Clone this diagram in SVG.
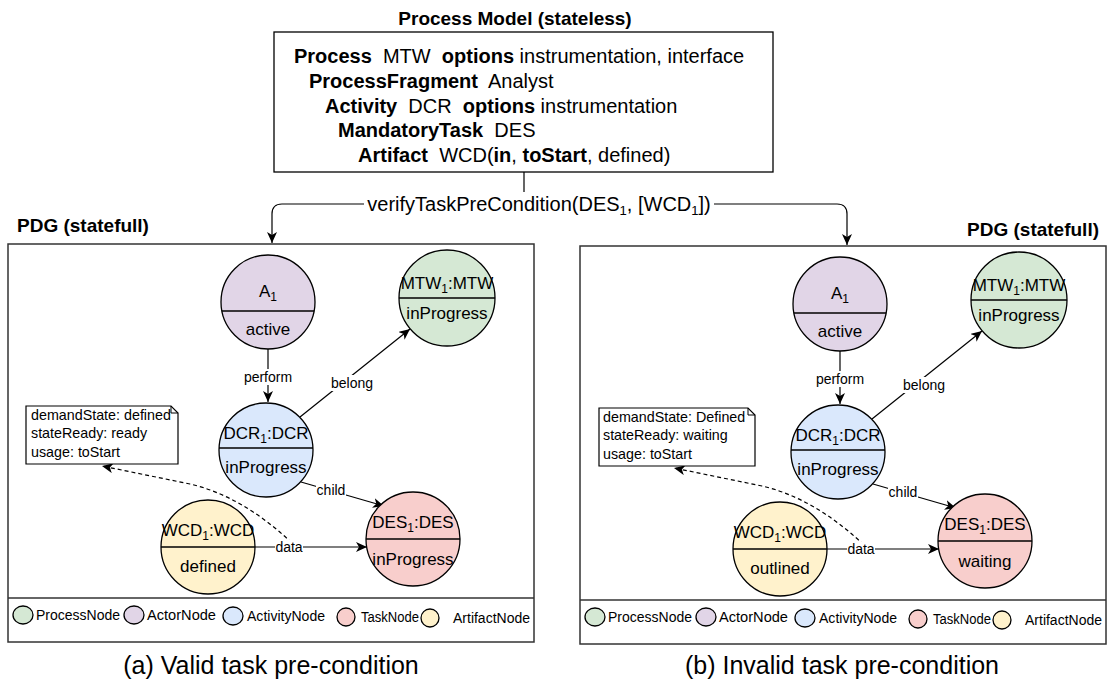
<svg xmlns="http://www.w3.org/2000/svg" width="1109" height="681" viewBox="0 0 1109 681">
<style>
text{font-family:"Liberation Sans",Arial,sans-serif;fill:#000}
.b{font-weight:bold}
.title{font-size:19px;font-weight:bold}
.pm{font-size:20px}
.nt{font-size:17px;text-anchor:middle}
.el{font-size:14px;text-anchor:middle}
.note{font-size:14.3px}
.lg{font-size:14px}
.cap{font-size:25px;text-anchor:middle}
.edge{fill:none;stroke:#000;stroke-width:1.2}
.dash{fill:none;stroke:#000;stroke-width:1.2;stroke-dasharray:4 3}
.nd{stroke:#000;stroke-width:1.3}
.div{stroke:#000;stroke-width:1.3}
.pn{fill:#d5e8d4}.an{fill:#e1d5e7}.vn{fill:#dae8fc}.tn{fill:#f8cecc}.fn{fill:#fff2cc}
.frame{fill:#fff;stroke:#333;stroke-width:1.5}
.lbg{fill:#fff}
</style>
<defs>
<marker id="arr" markerUnits="userSpaceOnUse" markerWidth="12" markerHeight="10" viewBox="0 0 12 10" refX="11" refY="5" orient="auto">
<path d="M0,0 L11,5 L0,10 L3,5 Z" fill="#000"/>
</marker>
</defs>
<rect width="1109" height="681" fill="#fff"/>

<!-- Process model -->
<g id="process-model">
<text class="title" x="515" y="25" text-anchor="middle">Process Model (stateless)</text>
<rect x="274" y="32" width="499" height="140" fill="#fff" stroke="#000" stroke-width="1.3"/>
<text class="pm" x="294" y="63" xml:space="preserve"><tspan class="b">Process</tspan>  MTW  <tspan class="b">options</tspan> instrumentation, interface</text>
<text class="pm" x="309" y="88" xml:space="preserve"><tspan class="b">ProcessFragment</tspan>  Analyst</text>
<text class="pm" x="325" y="113" xml:space="preserve"><tspan class="b">Activity</tspan>  DCR  <tspan class="b">options</tspan> instrumentation</text>
<text class="pm" x="338" y="137" xml:space="preserve"><tspan class="b">MandatoryTask</tspan>  DES</text>
<text class="pm" x="358" y="162" xml:space="preserve"><tspan class="b">Artifact</tspan>  WCD(<tspan class="b">in</tspan>, <tspan class="b">toStart</tspan>, defined)</text>
</g>

<g id="top-connectors">
<path class="edge" d="M524 172 V204 H282 Q272 204 272 214 V243" marker-end="url(#arr)"/>
<path class="edge" d="M524 204 H837 Q847 204 847 214 V245" marker-end="url(#arr)"/>
<rect class="lbg" x="364" y="192" width="350" height="24"/>
<text x="539" y="211" font-size="20" text-anchor="middle">verifyTaskPreCondition(DES<tspan font-size="13" dy="4">1</tspan><tspan dy="-4">, [WCD</tspan><tspan font-size="13" dy="4">1</tspan><tspan dy="-4">])</tspan></text>
</g>

<!-- Left panel -->
<text class="title" x="17" y="232">PDG (statefull)</text>
<g id="panel-a">
<rect class="frame" x="8" y="244" width="526" height="398"/>
<line x1="8" y1="598" x2="534" y2="598" stroke="#333" stroke-width="1.5"/>

<g id="a-connectors">
<path class="edge" d="M268 349 V402" marker-end="url(#arr)"/>
<path class="edge" d="M300 417 L410 329" marker-end="url(#arr)"/>
<path class="edge" d="M301 482 L384 506" marker-end="url(#arr)"/>
<path class="edge" d="M255 547 H367" marker-end="url(#arr)"/>
<path class="dash" d="M292 543 Q242 496 190 484 L102 466" marker-end="url(#arr)"/>
<rect class="lbg" x="244" y="369" width="48" height="16"/>
<text class="el" x="268" y="382">perform</text>
<rect class="lbg" x="331" y="375" width="42" height="16"/>
<text class="el" x="352" y="388">belong</text>
<rect class="lbg" x="316" y="483" width="30" height="15"/>
<text class="el" x="331" y="495">child</text>
<rect class="lbg" x="275" y="540" width="28" height="15"/>
<text class="el" x="289" y="552">data</text>
</g>

<g id="a-A1">
<circle class="nd an" cx="268" cy="302" r="47"/>
<line class="div" x1="222" y1="311" x2="314" y2="311"/>
<text class="nt" x="268" y="297">A<tspan font-size="12" dy="4">1</tspan></text>
<text class="nt" x="268" y="335">active</text>
</g>
<g id="a-MTW1">
<circle class="nd pn" cx="447" cy="298" r="48"/>
<line class="div" x1="399" y1="298" x2="495" y2="298"/>
<text class="nt" x="447" y="289">MTW<tspan font-size="12" dy="4">1</tspan><tspan dy="-4">:MTW</tspan></text>
<text class="nt" x="447" y="319">inProgress</text>
</g>
<g id="a-DCR1">
<circle class="nd vn" cx="266" cy="450" r="47"/>
<line class="div" x1="219" y1="448" x2="313" y2="448"/>
<text class="nt" x="266" y="439">DCR<tspan font-size="12" dy="4">1</tspan><tspan dy="-4">:DCR</tspan></text>
<text class="nt" x="266" y="473">inProgress</text>
</g>
<g id="a-DES1">
<circle class="nd tn" cx="413" cy="539" r="47"/>
<line class="div" x1="366" y1="539" x2="460" y2="539"/>
<text class="nt" x="413" y="528">DES<tspan font-size="12" dy="4">1</tspan><tspan dy="-4">:DES</tspan></text>
<text class="nt" x="413" y="565">inProgress</text>
</g>
<g id="a-WCD1">
<circle class="nd fn" cx="208" cy="547" r="47"/>
<line class="div" x1="161" y1="547" x2="255" y2="547"/>
<text class="nt" x="208" y="536">WCD<tspan font-size="12" dy="4">1</tspan><tspan dy="-4">:WCD</tspan></text>
<text class="nt" x="208" y="572">defined</text>
</g>
<g id="a-note">
<path d="M26 406 H171 L178 413 V464 H26 Z" fill="#fff" stroke="#000" stroke-width="1.2"/>
<path d="M171 406 V413 H178" fill="none" stroke="#000" stroke-width="1"/>
<text class="note" x="31" y="420">demandState: defined</text>
<text class="note" x="31" y="438">stateReady: ready</text>
<text class="note" x="31" y="457">usage: toStart</text>
</g>
<g id="a-legend">
<ellipse class="nd pn" cx="23" cy="615" rx="10" ry="9"/>
<text class="lg" x="36" y="620" textLength="84" lengthAdjust="spacingAndGlyphs">ProcessNode</text>
<ellipse class="nd an" cx="134" cy="615" rx="10" ry="9"/>
<text class="lg" x="147" y="620" textLength="69" lengthAdjust="spacingAndGlyphs">ActorNode</text>
<ellipse class="nd vn" cx="233" cy="616" rx="10" ry="9"/>
<text class="lg" x="247" y="621" textLength="78" lengthAdjust="spacingAndGlyphs">ActivityNode</text>
<ellipse class="nd tn" cx="346" cy="617" rx="9" ry="9"/>
<text class="lg" x="361" y="622" textLength="58" lengthAdjust="spacingAndGlyphs">TaskNode</text>
<ellipse class="nd fn" cx="430" cy="618" rx="9" ry="9"/>
<text class="lg" x="453" y="623" textLength="77" lengthAdjust="spacingAndGlyphs">ArtifactNode</text>
</g>
</g>
<text class="cap" x="271" y="674">(a) Valid task pre-condition</text>

<!-- Right panel -->
<text class="title" x="1099" y="236" text-anchor="end">PDG (statefull)</text>
<g id="panel-b" transform="translate(572,2)">
<rect class="frame" x="8" y="244" width="526" height="398"/>
<line x1="8" y1="598" x2="534" y2="598" stroke="#333" stroke-width="1.5"/>

<g id="b-connectors">
<path class="edge" d="M268 349 V402" marker-end="url(#arr)"/>
<path class="edge" d="M300 417 L410 329" marker-end="url(#arr)"/>
<path class="edge" d="M301 482 L384 506" marker-end="url(#arr)"/>
<path class="edge" d="M255 547 H367" marker-end="url(#arr)"/>
<path class="dash" d="M292 543 Q242 496 190 484 L102 466" marker-end="url(#arr)"/>
<rect class="lbg" x="244" y="369" width="48" height="16"/>
<text class="el" x="268" y="382">perform</text>
<rect class="lbg" x="331" y="375" width="42" height="16"/>
<text class="el" x="352" y="388">belong</text>
<rect class="lbg" x="316" y="483" width="30" height="15"/>
<text class="el" x="331" y="495">child</text>
<rect class="lbg" x="275" y="540" width="28" height="15"/>
<text class="el" x="289" y="552">data</text>
</g>

<g id="b-A1">
<circle class="nd an" cx="268" cy="302" r="47"/>
<line class="div" x1="222" y1="311" x2="314" y2="311"/>
<text class="nt" x="268" y="297">A<tspan font-size="12" dy="4">1</tspan></text>
<text class="nt" x="268" y="335">active</text>
</g>
<g id="b-MTW1">
<circle class="nd pn" cx="447" cy="298" r="48"/>
<line class="div" x1="399" y1="298" x2="495" y2="298"/>
<text class="nt" x="447" y="289">MTW<tspan font-size="12" dy="4">1</tspan><tspan dy="-4">:MTW</tspan></text>
<text class="nt" x="447" y="319">inProgress</text>
</g>
<g id="b-DCR1">
<circle class="nd vn" cx="266" cy="450" r="47"/>
<line class="div" x1="219" y1="448" x2="313" y2="448"/>
<text class="nt" x="266" y="439">DCR<tspan font-size="12" dy="4">1</tspan><tspan dy="-4">:DCR</tspan></text>
<text class="nt" x="266" y="473">inProgress</text>
</g>
<g id="b-DES1">
<circle class="nd tn" cx="413" cy="539" r="47"/>
<line class="div" x1="366" y1="539" x2="460" y2="539"/>
<text class="nt" x="413" y="528">DES<tspan font-size="12" dy="4">1</tspan><tspan dy="-4">:DES</tspan></text>
<text class="nt" x="413" y="565">waiting</text>
</g>
<g id="b-WCD1">
<circle class="nd fn" cx="208" cy="547" r="47"/>
<line class="div" x1="161" y1="547" x2="255" y2="547"/>
<text class="nt" x="208" y="536">WCD<tspan font-size="12" dy="4">1</tspan><tspan dy="-4">:WCD</tspan></text>
<text class="nt" x="208" y="572">outlined</text>
</g>
<g id="b-note">
<path d="M27 406 H176 L183 413 V464 H27 Z" fill="#fff" stroke="#000" stroke-width="1.2"/>
<path d="M176 406 V413 H183" fill="none" stroke="#000" stroke-width="1"/>
<text class="note" x="31" y="420">demandState: Defined</text>
<text class="note" x="31" y="438">stateReady: waiting</text>
<text class="note" x="31" y="457">usage: toStart</text>
</g>
<g id="b-legend">
<ellipse class="nd pn" cx="23" cy="615" rx="10" ry="9"/>
<text class="lg" x="36" y="620" textLength="84" lengthAdjust="spacingAndGlyphs">ProcessNode</text>
<ellipse class="nd an" cx="134" cy="615" rx="10" ry="9"/>
<text class="lg" x="147" y="620" textLength="69" lengthAdjust="spacingAndGlyphs">ActorNode</text>
<ellipse class="nd vn" cx="233" cy="616" rx="10" ry="9"/>
<text class="lg" x="247" y="621" textLength="78" lengthAdjust="spacingAndGlyphs">ActivityNode</text>
<ellipse class="nd tn" cx="346" cy="617" rx="9" ry="9"/>
<text class="lg" x="361" y="622" textLength="58" lengthAdjust="spacingAndGlyphs">TaskNode</text>
<ellipse class="nd fn" cx="430" cy="618" rx="9" ry="9"/>
<text class="lg" x="453" y="623" textLength="77" lengthAdjust="spacingAndGlyphs">ArtifactNode</text>
</g>
</g>
<text class="cap" x="842" y="674">(b) Invalid task pre-condition</text>
</svg>
